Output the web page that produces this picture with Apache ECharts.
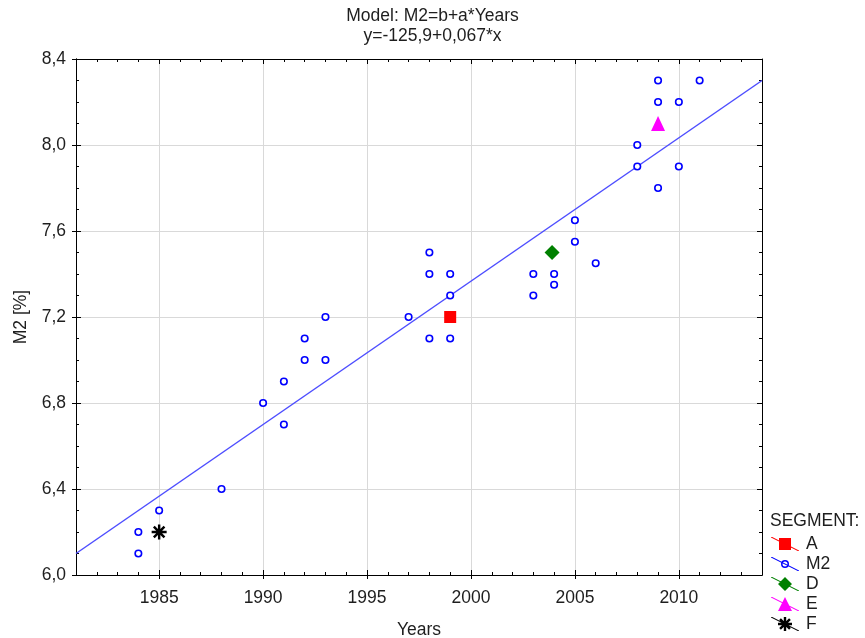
<!DOCTYPE html>
<html>
<head>
<meta charset="utf-8">
<script src="https://cdn.jsdelivr.net/npm/echarts@6/dist/echarts.min.js"></script>
<style>
html,body{margin:0;padding:0;background:#fff;}
#chart{width:865px;height:638px;}
</style>
</head>
<body>
<div id="chart"></div>
<script>
// ---- data ----
const m2Years  = [1984,1984,1985,1988,1990,1991,1991,1992,1992,1993,1993,1997,1998,1998,1998,1999,1999,1999,2003,2003,2004,2004,2005,2005,2006,2008,2008,2009,2009,2009,2010,2010,2011];
const m2Values = [6.2,6.1,6.3,6.4,6.8,6.9,6.7,7.1,7.0,7.2,7.0,7.2,7.5,7.4,7.1,7.4,7.3,7.1,7.4,7.3,7.4,7.35,7.65,7.55,7.45,8.0,7.9,8.3,8.2,7.8,8.2,7.9,8.3];
const segAYears = [1999];   const segAValues = [7.2];
const segDYears = [2003.9]; const segDValues = [7.5];
const segEYears = [2009];   const segEValues = [8.1];
const segFYears = [1985];   const segFValues = [6.2];
const fitYears  = [1981, 2014];
const fitValues = [6.1, 8.3];
const legendNames = ['A','M2','D','E','F'];
const titleLines = ['Model: M2=b+a*Years', 'y=-125,9+0,067*x'];
const xRange = [1981, 2014];
const yRange = [6.0, 8.4];
const yStep = 0.4;

const zip = (xs, ys) => xs.map((x, i) => [x, ys[i]]);

// ---- symbols ----
const FONT = 'Liberation Sans, Arial, sans-serif';
const FS = 17.5;
const starPath = 'path://M0 6.7L16 6.7L16 9.3L0 9.3Z M6.7 0L9.3 0L9.3 16L6.7 16Z M3.26 1.42L14.58 12.74L12.74 14.58L1.42 3.26Z M12.74 1.42L14.58 3.26L3.26 14.58L1.42 12.74Z';
const lineP = 'M0 0L1.2 0L28 13.4L28 14L26.8 14L0 0.6Z ';
const icons = {
  A:  'path://' + lineP + 'M8 1L20 1L20 13L8 13Z',
  M2: 'path://' + lineP + 'M10 7A4 4 0 1 1 18 7A4 4 0 1 1 10 7Z M11.5 7A2.5 2.5 0 1 0 16.5 7A2.5 2.5 0 1 0 11.5 7Z',
  D:  'path://' + lineP + 'M14 0L21 7L14 14L7 7Z',
  E:  'path://' + lineP + 'M14 0L21 14L7 14Z',
  F:  'path://' + lineP + 'M7 5.8L21 5.8L21 8.2L7 8.2Z M12.8 0L15.2 0L15.2 14L12.8 14Z M9.9 1.2L19.8 11.1L18.1 12.8L8.2 2.9Z M18.1 1.2L19.8 2.9L9.9 12.8L8.2 11.1Z'
};

const COL = { A:'#ff0000', M2:'#0000ff', D:'#008000', E:'#ff00ff', F:'#000000', fit:'#4d4dff' };
const labelCol = '#1e1e1e';
const frame = { show:true, lineStyle:{ color:'#000', width:1 } };

const chart = echarts.init(document.getElementById('chart'), null, { renderer:'canvas' });

const baseX = { type:'value', min:xRange[0], max:xRange[1], axisLine:frame };
const baseY = { type:'value', min:yRange[0], max:yRange[1], interval:yStep, axisLine:frame };

chart.setOption({
  animation:false,
  backgroundColor:'#fff',
  title:[
    { text:titleLines.join('\n'), left:'center', top:6, padding:0,
      textStyle:{ fontFamily:FONT, fontSize:FS, fontWeight:'normal', color:labelCol, lineHeight:20 } },
    { text:'SEGMENT:', left:770, top:512, padding:0,
      textStyle:{ fontFamily:FONT, fontSize:FS, fontWeight:'normal', color:labelCol } }
  ],
  grid:{ left:76, right:103, top:59, bottom:63, containLabel:false, outerBoundsMode:'none' },
  legend:{
    orient:'vertical', left:771, top:535, height:200, padding:0,
    itemWidth:28, itemHeight:14, itemGap:2,
    selectedMode:false,
    textStyle:{ fontFamily:FONT, fontSize:FS, color:labelCol, padding:[0,0,0,2] },
    data: legendNames.map(n => ({ name:n, icon:icons[n], itemStyle:{ color:COL[n], borderWidth:0, opacity:1 } }))
  },
  xAxis:[
    Object.assign({}, baseX, {
      position:'bottom', name:'Years', nameLocation:'middle', nameGap:46,
      nameTextStyle:{ fontFamily:FONT, fontSize:FS, color:labelCol },
      axisTick:{ show:true, inside:false, length:4, lineStyle:{ color:'#000' } },
      axisLabel:{ fontFamily:FONT, fontSize:FS, color:labelCol, margin:14, showMinLabel:false, showMaxLabel:false,
        formatter: v => String(v) },
      splitLine:{ show:true, lineStyle:{ color:'#d9d9d9', width:1 } },
      minorTick:{ show:false }
    }),
    Object.assign({}, baseX, {
      position:'bottom',
      axisTick:{ show:true, inside:true, length:5, lineStyle:{ color:'#000' } },
      minorTick:{ show:true, splitNumber:5, length:3, lineStyle:{ color:'#000' } },
      axisLabel:{ show:false }, splitLine:{ show:false }
    }),
    Object.assign({}, baseX, {
      position:'top',
      axisTick:{ show:true, inside:true, length:5, lineStyle:{ color:'#000' } },
      minorTick:{ show:true, splitNumber:5, length:3, lineStyle:{ color:'#000' } },
      axisLabel:{ show:false }, splitLine:{ show:false }
    })
  ],
  yAxis:[
    Object.assign({}, baseY, {
      position:'left', name:'M2 [%]', nameLocation:'middle', nameGap:46,
      nameTextStyle:{ fontFamily:FONT, fontSize:FS, color:labelCol },
      axisTick:{ show:true, inside:false, length:4, lineStyle:{ color:'#000' } },
      axisLabel:{ fontFamily:FONT, fontSize:FS, color:labelCol, margin:10,
        formatter: v => v.toFixed(1).replace('.', ',') },
      splitLine:{ show:true, lineStyle:{ color:'#d9d9d9', width:1 } },
      minorTick:{ show:false }
    }),
    Object.assign({}, baseY, {
      position:'left',
      axisTick:{ show:true, inside:true, length:5, lineStyle:{ color:'#000' } },
      minorTick:{ show:true, splitNumber:4, length:3, lineStyle:{ color:'#000' } },
      axisLabel:{ show:false }, splitLine:{ show:false }
    }),
    Object.assign({}, baseY, {
      position:'right',
      axisTick:{ show:true, inside:true, length:5, lineStyle:{ color:'#000' } },
      minorTick:{ show:true, splitNumber:4, length:3, lineStyle:{ color:'#000' } },
      axisLabel:{ show:false }, splitLine:{ show:false }
    })
  ],
  series:[
    { name:'fit', type:'line', xAxisIndex:0, yAxisIndex:0, data:zip(fitYears, fitValues),
      showSymbol:false, symbol:'none', lineStyle:{ color:COL.fit, width:1.5 }, z:2, silent:true },
    { name:'M2', type:'scatter', xAxisIndex:0, yAxisIndex:0, data:zip(m2Years, m2Values),
      symbol:'circle', symbolSize:6.5,
      itemStyle:{ color:'#ffffff', borderColor:COL.M2, borderWidth:1.6, opacity:1 }, z:3 },
    { name:'A', type:'scatter', data:zip(segAYears, segAValues), symbol:'rect', symbolSize:12,
      itemStyle:{ color:COL.A, opacity:1 }, z:4 },
    { name:'D', type:'scatter', data:zip(segDYears, segDValues), symbol:'diamond', symbolSize:[15,15],
      itemStyle:{ color:COL.D, opacity:1 }, z:4 },
    { name:'E', type:'scatter', data:zip(segEYears, segEValues), symbol:'triangle', symbolSize:[14,15],
      itemStyle:{ color:COL.E, opacity:1 }, z:4 },
    { name:'F', type:'scatter', data:zip(segFYears, segFValues), symbol:starPath, symbolSize:15,
      itemStyle:{ color:COL.F, opacity:1 }, z:4 }
  ]
});
</script>
</body>
</html>
